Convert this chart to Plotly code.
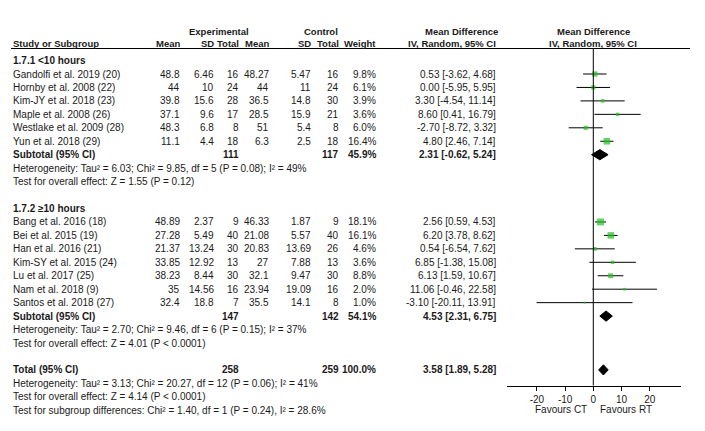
import plotly.graph_objects as go

W, H = 705, 431

# ---------------- data ----------------
g1_names = ["Gandolfi et al. 2019 (20)", "Hornby et al. 2008 (22)", "Kim-JY et al. 2018 (23)",
            "Maple et al. 2008 (26)", "Westlake et al. 2009 (28)", "Yun et al. 2018 (29)"]
g1_exp_mean = ["48.8", "44", "39.8", "37.1", "48.3", "11.1"]
g1_exp_sd = ["6.46", "10", "15.6", "9.6", "6.8", "4.4"]
g1_exp_n = [16, 24, 28, 17, 8, 18]
g1_ctl_mean = ["48.27", "44", "36.5", "28.5", "51", "6.3"]
g1_ctl_sd = ["5.47", "11", "14.8", "15.9", "5.4", "2.5"]
g1_ctl_n = [16, 24, 30, 21, 8, 18]
g1_weight = [9.8, 6.1, 3.9, 3.6, 6.0, 16.4]
g1_md = [0.53, 0.00, 3.30, 8.60, -2.70, 4.80]
g1_lo = [-3.62, -5.95, -4.54, 0.41, -8.72, 2.46]
g1_hi = [4.68, 5.95, 11.14, 16.79, 3.32, 7.14]

g2_names = ["Bang et al. 2016 (18)", "Bei et al. 2015 (19)", "Han et al. 2016 (21)",
            "Kim-SY et al. 2015 (24)", "Lu et al. 2017 (25)", "Nam et al. 2018 (9)",
            "Santos et al. 2018 (27)"]
g2_exp_mean = ["48.89", "27.28", "21.37", "33.85", "38.23", "35", "32.4"]
g2_exp_sd = ["2.37", "5.49", "13.24", "12.92", "8.44", "14.56", "18.8"]
g2_exp_n = [9, 40, 30, 13, 30, 16, 7]
g2_ctl_mean = ["46.33", "21.08", "20.83", "27", "32.1", "23.94", "35.5"]
g2_ctl_sd = ["1.87", "5.57", "13.69", "7.88", "9.47", "19.09", "14.1"]
g2_ctl_n = [9, 40, 26, 13, 30, 16, 8]
g2_weight = [18.1, 16.1, 4.6, 3.6, 8.8, 2.0, 1.0]
g2_md = [2.56, 6.20, 0.54, 6.85, 6.13, 11.06, -3.10]
g2_lo = [0.59, 3.78, -6.54, -1.38, 1.59, -0.46, -20.11]
g2_hi = [4.53, 8.62, 7.62, 15.08, 10.67, 22.58, 13.91]

sub_labels = ["1.7.1 &lt;10 hours", "1.7.2 ≥10 hours"]
sub_exp_n = [111, 147]
sub_ctl_n = [117, 142]
sub_weight = [45.9, 54.1]
sub_md = [2.31, 4.53]
sub_lo = [-0.62, 2.31]
sub_hi = [5.24, 6.75]
sub_het = ["Heterogeneity: Tau² = 6.03; Chi² = 9.85, df = 5 (P = 0.08); I² = 49%",
           "Heterogeneity: Tau² = 2.70; Chi² = 9.46, df = 6 (P = 0.15); I² = 37%"]
sub_test = ["Test for overall effect: Z = 1.55 (P = 0.12)",
            "Test for overall effect: Z = 4.01 (P &lt; 0.0001)"]

tot_exp_n, tot_ctl_n, tot_weight = 258, 259, 100.0
tot_md, tot_lo, tot_hi = 3.58, 1.89, 5.28
tot_het = "Heterogeneity: Tau² = 3.13; Chi² = 20.27, df = 12 (P = 0.06); I² = 41%"
tot_test = "Test for overall effect: Z = 4.14 (P &lt; 0.0001)"
tot_sub = "Test for subgroup differences: Chi² = 1.40, df = 1 (P = 0.24), I² = 28.6%"

x_ticks = [-20, -10, 0, 10, 20]
x_tick_labels = ["-20", "-10", "0", "10", "20"]
fav_left, fav_right = "Favours CT", "Favours RT"

# ---------------- layout helpers ----------------
ROWH = 13.45
ROW0 = 66.0 - ROWH
def k_of(py):
    return (py - ROW0) / ROWH
def px(x):
    return x / W

FONT = "Liberation Sans, Arial, sans-serif"
FS = 10
FS_HEAD = 9.5
TC = "#1a1a1a"
GREEN = "#1fbf1f"
LX = 3

ann = []
def txt(x, k, s, anchor="left", bold=False, size=FS):
    ann.append(dict(x=px(x), y=k, xref="paper", yref="y", text=f"<b>{s}</b>" if bold else s,
                    showarrow=False, xanchor=anchor, yanchor="middle",
                    font=dict(family=FONT, size=size, color=TC)))

def fmt_ci(m, l, h):
    return f"{m:.2f} [{l:.2f}, {h:.2f}]"

ZERO_PX = 585.3
col_r = [174, 208, 233, 263, 305, 333, 370, 490]

# header
kh1, kh2 = k_of(23.0), k_of(35.5)
txt(211, kh1, "Experimental", "center", True, FS_HEAD)
txt(313, kh1, "Control", "center", True, FS_HEAD)
txt(col_r[7] + 2, kh1, "Mean Difference", "right", True, FS_HEAD)
txt(col_r[7], kh2, "IV, Random, 95% CI", "right", True, FS_HEAD)
txt(ZERO_PX, kh1, "Mean Difference", "center", True, FS_HEAD)
txt(ZERO_PX, kh2, "IV, Random, 95% CI", "center", True, FS_HEAD)
txt(LX, kh2, "Study or Subgroup", "left", True, FS_HEAD)
for xr, s in zip(col_r[:7], ["Mean", "SD", "Total", "Mean", "SD", "Total", "Weight"]):
    txt(xr, kh2, s, "right", True, FS_HEAD)

fig = go.Figure()

groups = [
    (g1_names, g1_exp_mean, g1_exp_sd, g1_exp_n, g1_ctl_mean, g1_ctl_sd, g1_ctl_n, g1_weight, g1_md, g1_lo, g1_hi),
    (g2_names, g2_exp_mean, g2_exp_sd, g2_exp_n, g2_ctl_mean, g2_ctl_sd, g2_ctl_n, g2_weight, g2_md, g2_lo, g2_hi),
]

all_k, all_md, all_lo, all_hi, all_w = [], [], [], [], []
diamonds = []
k = 0
for gi, g in enumerate(groups):
    names, em, esd, en, cm, csd, cn, w, md, lo, hi = g
    txt(LX, k, sub_labels[gi], "left", True)
    k += 1
    for i in range(len(names)):
        txt(LX, k, names[i])
        vals = [em[i], esd[i], str(en[i]), cm[i], csd[i], str(cn[i]), f"{w[i]:.1f}%", fmt_ci(md[i], lo[i], hi[i])]
        for xr, s in zip(col_r, vals):
            txt(xr, k, s, "right")
        all_k.append(k); all_md.append(md[i]); all_lo.append(lo[i]); all_hi.append(hi[i]); all_w.append(w[i])
        k += 1
    txt(LX, k, "Subtotal (95% CI)", "left", True)
    txt(col_r[2], k, str(sub_exp_n[gi]), "right", True)
    txt(col_r[5], k, str(sub_ctl_n[gi]), "right", True)
    txt(col_r[6], k, f"{sub_weight[gi]:.1f}%", "right", True)
    txt(col_r[7], k, fmt_ci(sub_md[gi], sub_lo[gi], sub_hi[gi]), "right", True)
    diamonds.append((k, sub_md[gi], sub_lo[gi], sub_hi[gi]))
    k += 1
    txt(LX, k, sub_het[gi]); k += 1
    txt(LX, k, sub_test[gi]); k += 1
    k += 1

txt(LX, k, "Total (95% CI)", "left", True)
txt(col_r[2], k, str(tot_exp_n), "right", True)
txt(col_r[5], k, str(tot_ctl_n), "right", True)
txt(col_r[6], k, f"{tot_weight:.1f}%", "right", True)
txt(col_r[7], k, fmt_ci(tot_md, tot_lo, tot_hi), "right", True)
diamonds.append((k, tot_md, tot_lo, tot_hi))
k += 1
txt(LX, k, tot_het); k += 1
txt(LX, k, tot_test); k += 1
txt(LX, k, tot_sub); k += 1

# favours labels
kf = k_of(401)
txt(ZERO_PX - 4, kf, fav_left, "right")
txt(ZERO_PX + 5, kf, fav_right, "left")

# study CIs + squares
fig.add_trace(go.Scatter(
    x=all_md, y=all_k, mode="markers",
    marker=dict(symbol="square", color=GREEN, size=[1.5 * w ** 0.5 + 0.5 for w in all_w], line=dict(width=0)),
    error_x=dict(type="data", symmetric=False,
                 array=[h - m for h, m in zip(all_hi, all_md)],
                 arrayminus=[m - l for m, l in zip(all_md, all_lo)],
                 color="black", thickness=1, width=0),
    hoverinfo="skip", showlegend=False, cliponaxis=False))

# diamonds
DH = 0.38
for (kk, m, l, h) in diamonds:
    fig.add_trace(go.Scatter(
        x=[l, m, h, m, l], y=[kk, kk - DH, kk, kk + DH, kk], mode="lines",
        fill="toself", fillcolor="black", line=dict(color="black", width=1),
        hoverinfo="skip", showlegend=False))

AXIS_PY = 377.5
HLINE_PY = 40.5
shapes = [
    dict(type="line", xref="paper", yref="y", x0=px(LX), x1=px(682), y0=k_of(HLINE_PY), y1=k_of(HLINE_PY),
         line=dict(color="black", width=1)),
    dict(type="line", xref="x", yref="y", x0=0, x1=0, y0=k_of(HLINE_PY), y1=k_of(AXIS_PY),
         line=dict(color="black", width=1)),
]

fig.update_layout(
    width=W, height=H, margin=dict(l=0, r=0, t=0, b=0),
    paper_bgcolor="white", plot_bgcolor="rgba(0,0,0,0)",
    annotations=ann, shapes=shapes,
    xaxis=dict(domain=[px(499.3), px(673)], range=[-30.5, 31.1], anchor="free",
               position=1 - AXIS_PY / H, tickvals=x_ticks, ticktext=x_tick_labels,
               ticks="outside", ticklen=4,
               tickcolor="black", showline=True, linecolor="black", linewidth=1,
               showgrid=False, zeroline=False, tickfont=dict(family=FONT, size=FS, color=TC)),
    yaxis=dict(domain=[0, 1], range=[k_of(H), k_of(0)], visible=False, showgrid=False, zeroline=False),
)

fig.write_html("out.html")
